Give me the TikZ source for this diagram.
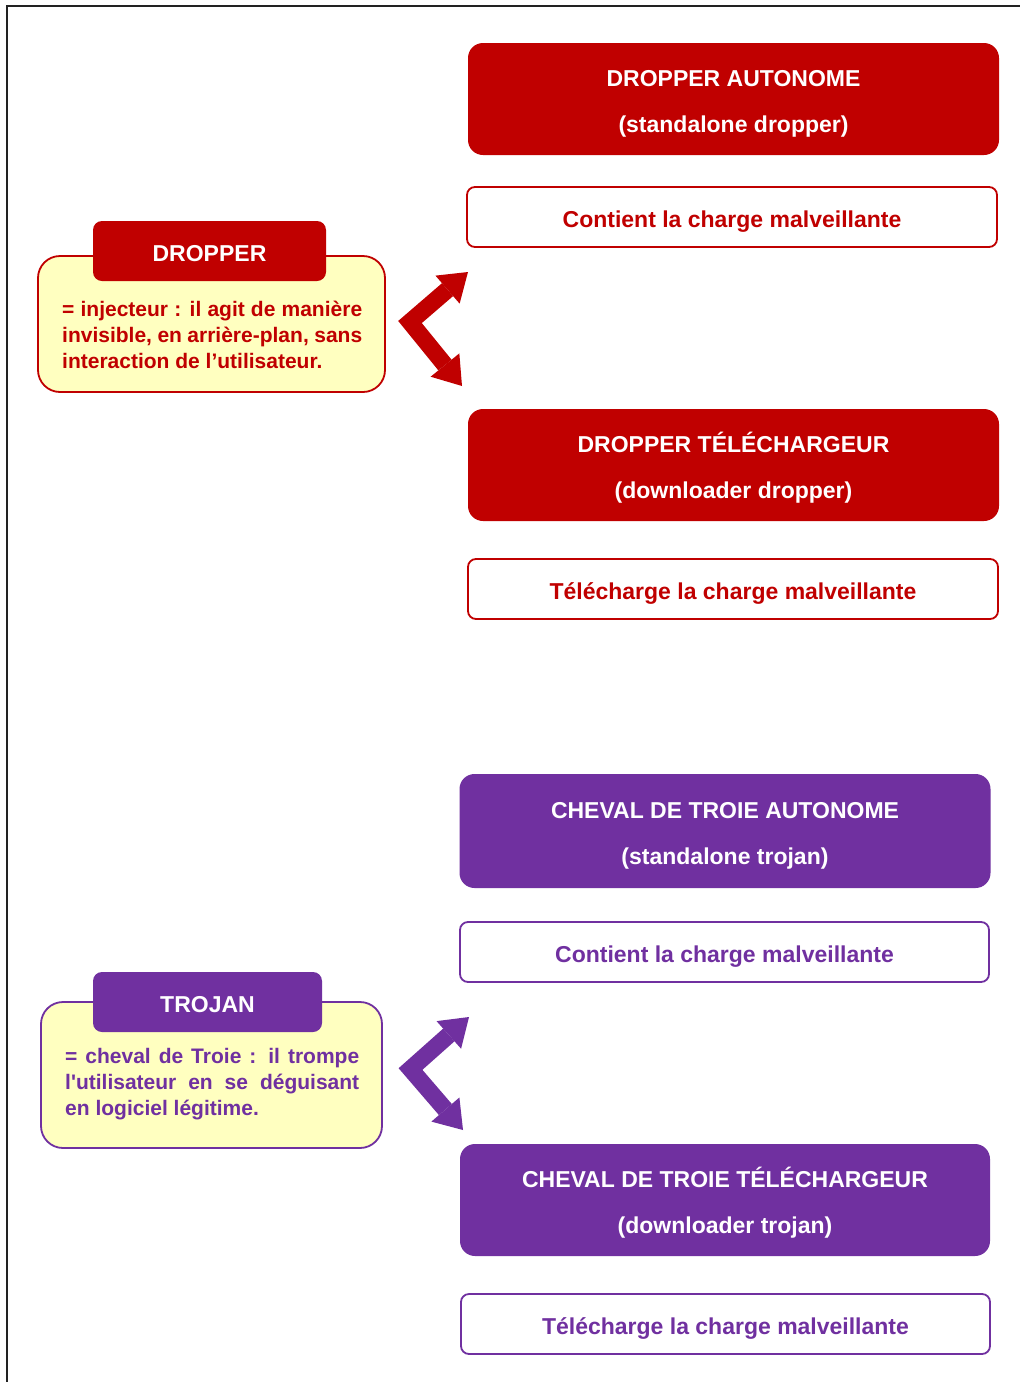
\documentclass[tikz,border=0pt]{standalone}
\usepackage{fontspec}
\setmainfont{Liberation Sans}[Ligatures=TeXOff]
\usetikzlibrary{arrows.meta}
\definecolor{dred}{HTML}{C00000}
\definecolor{dpurple}{HTML}{7030A0}
\definecolor{pale}{HTML}{FFFFC0}
\definecolor{frame}{HTML}{222222}
% invisible strut that lowers the text inside a box
\newcommand{\lowr}[1]{\rule{0pt}{#1}}

\begin{document}
\begin{tikzpicture}[x=1pt,y=-1pt,
  hdr/.style={rounded corners=15pt, fill=#1, text=white, minimum width=531pt, minimum height=112pt,
    align=center, font=\fontsize{23}{46}\selectfont\bfseries, inner sep=0pt},
  note/.style={rounded corners=8pt, draw=#1, line width=1.8pt, fill=white, text=#1,
    minimum width=530pt, minimum height=60pt, font=\fontsize{23}{28}\selectfont\bfseries, inner sep=0pt},
  panel/.style={rounded corners=22pt, draw=#1, line width=1.8pt, fill=pale, inner sep=0pt},
  tabbox/.style={rounded corners=9pt, fill=#1, text=white, minimum height=60pt,
    font=\fontsize{23}{28}\selectfont\bfseries, inner sep=0pt},
  body/.style={text=#1, align=left, font=\fontsize{21}{26}\selectfont\bfseries, inner sep=0pt, anchor=west},
  fork/.style={draw=#1, line width=17pt,
    {Triangle[length=27pt,width=37pt,line width=0pt]}-{Triangle[length=27pt,width=37pt,line width=0pt]}}
]
\useasboundingbox (0,0) rectangle (1020,1382);
\fill[white] (0,0) rectangle (1020,1382);

% page frame
\draw[frame, line width=2.5pt] (7,1382) -- (7,6) -- (1020,6);

% ---- dropper ----
\node[hdr=dred] (dauto) at (733.5,99) {\lowr{26pt}DROPPER AUTONOME\\(standalone dropper)};
\node[note=dred] (dautoc) at (732,217) {\lowr{26pt}Contient la charge malveillante};
\node[hdr=dred] (ddl) at (733.5,465) {\lowr{26pt}DROPPER TÉLÉCHARGEUR\\(downloader dropper)};
\node[note=dred] (ddlc) at (733,589) {\lowr{26pt}Télécharge la charge malveillante};

\node[panel=dred, minimum width=347pt, minimum height=136pt] (dpanel) at (211.5,324) {};
\node[tabbox=dred, minimum width=233pt] (dtab) at (209.5,251) {\lowr{21.5pt}DROPPER};
\node[body=dred] (dtxt) at (62,335) {\makebox[300pt][s]{= injecteur : il agit de manière}\\
  \makebox[300pt][s]{invisible, en arrière-plan, sans}\\
  interaction de l’utilisateur.};

\coordinate (dtop) at (468,272);
\coordinate (dvert) at (410,322);
\coordinate (dbot) at (462,386);
\draw[fork=dred] (dtop) -- (dvert) -- (dbot);

% ---- trojan ----
\node[hdr=dpurple, minimum height=114pt] (tauto) at (725,831) {\lowr{25pt}CHEVAL DE TROIE AUTONOME\\(standalone trojan)};
\node[note=dpurple, minimum width=529pt] (tautoc) at (724.5,952) {\lowr{26pt}Contient la charge malveillante};
\node[hdr=dpurple, minimum width=530pt] (tdl) at (725,1200) {\lowr{25pt}CHEVAL DE TROIE TÉLÉCHARGEUR\\(downloader trojan)};
\node[note=dpurple, minimum width=529pt] (tdlc) at (725.5,1324) {\lowr{26pt}Télécharge la charge malveillante};

\node[panel=dpurple, minimum width=341pt, minimum height=146pt] (tpanel) at (211.5,1075) {};
\node[tabbox=dpurple, minimum width=229pt] (ttab) at (207.5,1002) {\lowr{21.5pt}TROJAN};
\node[body=dpurple] (ttxt) at (65,1084) {\makebox[294pt][s]{= cheval de Troie : il trompe}\\
  \makebox[294pt][s]{l'utilisateur en se déguisant}\\
  en logiciel légitime.};

\coordinate (ttop) at (469,1017);
\coordinate (tvert) at (410.5,1069);
\coordinate (tbot) at (463,1130);
\draw[fork=dpurple] (ttop) -- (tvert) -- (tbot);
\end{tikzpicture}
\end{document}
